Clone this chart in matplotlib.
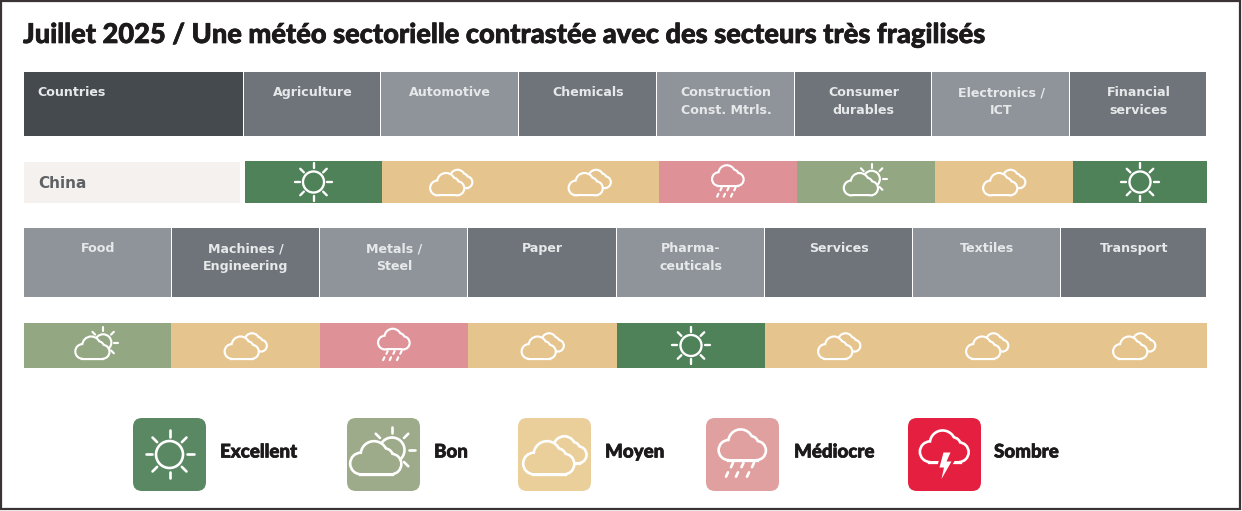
import numpy as np
import matplotlib
matplotlib.use("Agg")
import matplotlib.pyplot as plt
import matplotlib.patheffects as pe
from matplotlib.patches import Rectangle, Circle, FancyBboxPatch, Polygon

title = "Juillet 2025 / Une météo sectorielle contrastée avec des secteurs très fragilisés"
country = "China"
sectors_1 = ["Agriculture", "Automotive", "Chemicals", "Construction\nConst. Mtrls.",
             "Consumer\ndurables", "Electronics /\nICT", "Financial\nservices"]
ratings_1 = ["Excellent", "Moyen", "Moyen", "Médiocre", "Bon", "Moyen", "Excellent"]
sectors_2 = ["Food", "Machines /\nEngineering", "Metals /\nSteel", "Paper",
             "Pharma-\nceuticals", "Services", "Textiles", "Transport"]
ratings_2 = ["Bon", "Moyen", "Médiocre", "Moyen", "Excellent", "Moyen", "Moyen", "Moyen"]
legend_names = ["Excellent", "Bon", "Moyen", "Médiocre", "Sombre"]

cell_col = {"Excellent": "#4f8259", "Bon": "#93a782", "Moyen": "#e6c48d",
            "Médiocre": "#de9297", "Sombre": "#e51f3f"}
leg_col = {"Excellent": "#5a8863", "Bon": "#9eab8b", "Moyen": "#eacf9b",
           "Médiocre": "#dfa09f", "Sombre": "#e51f3f"}
dark = "#6e7479"
light = "#8f949b"

fig = plt.figure(figsize=(12.42, 5.11), dpi=100)
ax = fig.add_axes([0, 0, 1, 1])
ax.set_xlim(0, 1242)
ax.set_ylim(511, 0)
ax.axis("off")

ax.add_patch(Rectangle((1, 1), 1239, 508, fc="white", ec="#3a3335", lw=1.6))


def cloud(cx, cy, s, bg, lw, z=5):
    lobes = [(-15, 5.5, 9.5), (15, 6, 9), (-2, -3.5, 12), (8, -0.5, 8)]
    rect = (-15, 5, 30, 10)
    for k in [0, 1]:
        zz = z + k * 0.1
        kw = dict(ec="white", lw=lw * 2, fc=bg, zorder=zz) if k == 0 else dict(ec="none", fc=bg, zorder=zz)
        for x, y, r in lobes:
            ax.add_patch(Circle((cx + x * s, cy + y * s), r * s, **kw))
        ax.add_patch(Rectangle((cx + rect[0] * s, cy + rect[1] * s), rect[2] * s, rect[3] * s, **kw))


def sun(cx, cy, r, r1, r2, lw, angles=range(0, 360, 45), z=3):
    ax.add_patch(Circle((cx, cy), r, fc="none", ec="white", lw=lw, zorder=z))
    for a in angles:
        c, d = np.cos(np.radians(a)), np.sin(np.radians(a))
        ax.plot([cx + r1 * c, cx + r2 * c], [cy + r1 * d, cy + r2 * d], color="white",
                lw=lw, solid_capstyle="round", zorder=z)


def icon(name, cx, cy, s, bg):
    # s = 1 is the size in the legend
    lw = 1.9 * s ** 0.5
    if name == "Excellent":
        sun(cx, cy, 13.5 * s, 17.5 * s, 24 * s, lw)
    elif name == "Bon":
        sun(cx + 8.5 * s, cy - 4.5 * s, 12.5 * s, 17 * s, 23 * s, lw, angles=[-135, -90, -45, 0, 45])
        cloud(cx - 7.5 * s, cy + 3.5 * s, s, bg, lw)
    elif name == "Moyen":
        cloud(cx + 11.5 * s, cy - 4.5 * s, 0.8 * s, bg, lw, z=5)
        cloud(cx - 5.5 * s, cy + 3.5 * s, s, bg, lw, z=6)
    elif name == "Médiocre":
        cloud(cx, cy - 9.5 * s, 0.92 * s, bg, lw)
        for dx, dy in [(-10.5, 10.5), (0, 10.5), (10.5, 10.5), (-15.5, 20), (-5.5, 20), (5.5, 20)]:
            ax.plot([cx + (dx + 1) * s, cx + (dx - 1) * s], [cy + (dy - 2.2) * s, cy + (dy + 2.2) * s],
                    color="white", lw=lw, solid_capstyle="round", zorder=7)
    else:
        cloud(cx, cy - 8 * s, 0.95 * s, bg, lw)
        bolt = [(-1, -2), (6, -2), (2, 7), (7, 7), (-3, 24.5), (-0.5, 13), (-5, 13)]
        ax.add_patch(Polygon([(cx + x * s, cy + y * s) for x, y in bolt], fc=bg, ec=bg, lw=3.5, zorder=7))
        ax.add_patch(Polygon([(cx + x * s, cy + y * s) for x, y in bolt], fc="white", ec="none", zorder=8))


head_font = dict(family="DejaVu Sans", color="#e6e8e9", fontsize=9.1, fontweight="bold",
                 ha="center", va="top", linespacing=1.5)


def header_row(edges, labels, y0, y1, start_dark, pad):
    for i, lab in enumerate(labels):
        dk = (i % 2 == 0) == start_dark
        ax.add_patch(Rectangle((edges[i], y0), edges[i + 1] - edges[i] - 1, y1 - y0,
                               fc=dark if dk else light, ec="none"))
        ax.text((edges[i] + edges[i + 1]) / 2, y0 + pad, lab, **head_font)


def rating_row(edges, names, y0, y1):
    for i, nm in enumerate(names):
        ax.add_patch(Rectangle((edges[i], y0), edges[i + 1] - edges[i], y1 - y0,
                               fc=cell_col[nm], ec="none"))
        cx = (edges[i] + edges[i + 1]) / 2
        s = 0.78 if nm == "Excellent" else 0.66
        icon(nm, cx, (y0 + y1) / 2, s, cell_col[nm])


heavy = [pe.withStroke(linewidth=0.5, foreground="#1d1a1c")]
ax.text(23, 35, title, fontsize=19.62, fontfamily="Lato", fontweight="black",
        color="#1d1a1c", ha="left", va="center", path_effects=heavy)

# top table
ax.add_patch(Rectangle((24, 72), 219, 64, fc="#454a4e", ec="none"))
ax.text(37, 86, "Countries", **{**head_font, "ha": "left"})
header_row([244, 381, 519, 657, 795, 932, 1070, 1207], sectors_1, 72, 136, True, 14)

ax.add_patch(Rectangle((24, 162), 216, 41, fc="#f4f1ee", ec="none"))
ax.text(38, 183, country, family="DejaVu Sans", fontsize=11, fontweight="bold",
        color="#5f6265", ha="left", va="center")
rating_row([245, 382, 520, 659, 797, 935, 1073, 1207], ratings_1, 161, 203)

# second table
header_row([24, 172, 320, 468, 617, 765, 913, 1061, 1207], sectors_2, 228, 297, False, 14)
rating_row([24, 171, 320, 468, 617, 765, 913, 1061, 1207], ratings_2, 323, 368)

# legend
leg_x = [133, 347, 518, 706, 908]
leg_text_x = [220, 434, 605, 794, 994]
for nm, x, tx in zip(legend_names, leg_x, leg_text_x):
    bg = leg_col[nm]
    ax.add_patch(FancyBboxPatch((x + 8, 426), 57, 57, boxstyle="round,pad=8,rounding_size=9",
                                fc=bg, ec="none"))
    icon(nm, x + 36.5, 454.5, 1, bg)
    ax.text(tx, 452, nm, fontsize=13.5, fontfamily="Lato", fontweight="black",
            color="#1d1a1c", ha="left", va="center", path_effects=heavy)

fig.savefig("out.png", dpi=100)
